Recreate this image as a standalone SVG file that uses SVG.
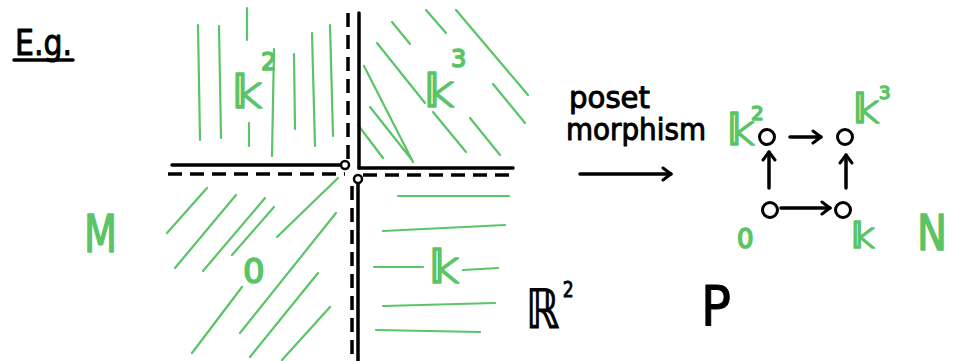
<svg xmlns="http://www.w3.org/2000/svg" width="954" height="361" viewBox="0 0 954 361">
<defs>
<style>
.bk{stroke:#000;stroke-width:3.5;fill:none;stroke-linecap:round;stroke-linejoin:round}
.ds{stroke:#000;stroke-width:3.5;fill:none;stroke-dasharray:14 8;stroke-linecap:butt}
.gr{stroke:#5ac467;stroke-width:2.2;fill:none;stroke-linecap:round}
.gt{fill:#5ac467;stroke:#5ac467;stroke-width:1.6;stroke-linejoin:round;font-family:"DejaVu Sans",sans-serif}
.bt{fill:#000;stroke:#000;stroke-width:1;stroke-linejoin:round;font-family:"DejaVu Sans",sans-serif}
.nd{stroke:#000;stroke-width:3;fill:#fff}
</style>
<marker id="ah" viewBox="-10 -8 12 16" markerWidth="12" markerHeight="16" refX="0" refY="0" orient="auto" markerUnits="userSpaceOnUse">
<path d="M-8,-6 L0,0 L-8,6" stroke="#000" stroke-width="3" fill="none" stroke-linecap="round" stroke-linejoin="round"/>
</marker>
</defs>
<rect width="954" height="361" fill="#fff"/>

<!-- E.g. -->
<text class="bt" x="15" y="55" font-size="36" textLength="57" lengthAdjust="spacingAndGlyphs">E.g.</text>
<line class="bk" x1="14" y1="60" x2="73" y2="60"/>

<!-- green hatching upper-left (vertical) -->
<g class="gr">
<line x1="198" y1="25" x2="200" y2="140"/>
<line x1="219" y1="26" x2="221" y2="138"/>
<line x1="247" y1="8" x2="247" y2="40"/>
<line x1="249" y1="123" x2="249" y2="146"/>
<line x1="274" y1="49" x2="272" y2="156"/>
<line x1="294" y1="54" x2="295" y2="129"/>
<line x1="312" y1="33" x2="315" y2="146"/>
<line x1="330" y1="25" x2="333" y2="136"/>
</g>
<!-- green hatching upper-right (diagonal) -->
<g class="gr">
<line x1="392" y1="22" x2="410" y2="44"/>
<line x1="426" y1="10" x2="446" y2="33"/>
<line x1="456" y1="10" x2="528" y2="95"/>
<line x1="377" y1="43" x2="425" y2="103"/>
<line x1="433" y1="112" x2="466" y2="152"/>
<line x1="364" y1="66" x2="413" y2="162"/>
<line x1="370" y1="107" x2="412" y2="160"/>
<line x1="358" y1="125" x2="383" y2="158"/>
<line x1="470" y1="118" x2="500" y2="155"/>
<line x1="493" y1="84" x2="525" y2="123"/>
</g>
<!-- green hatching lower-left (diagonal) -->
<g class="gr">
<line x1="167" y1="233" x2="207" y2="188"/>
<line x1="175" y1="268" x2="236" y2="195"/>
<line x1="203" y1="271" x2="265" y2="198"/>
<line x1="232" y1="255" x2="274" y2="207"/>
<line x1="277" y1="237" x2="338" y2="178"/>
<line x1="240" y1="333" x2="336" y2="213"/>
<line x1="192" y1="353" x2="242" y2="287"/>
<line x1="250" y1="357" x2="318" y2="273"/>
<line x1="282" y1="360" x2="330" y2="307"/>
</g>
<!-- green hatching lower-right (horizontal) -->
<g class="gr">
<line x1="398" y1="196" x2="509" y2="196"/>
<line x1="383" y1="231" x2="505" y2="225"/>
<line x1="374" y1="267" x2="423" y2="267"/>
<line x1="463" y1="270" x2="498" y2="268"/>
<line x1="383" y1="306" x2="495" y2="303"/>
<line x1="376" y1="330" x2="480" y2="332"/>
</g>

<!-- quadrant borders -->
<line class="bk" x1="359" y1="13" x2="359" y2="168"/>
<line class="bk" x1="359" y1="168" x2="513" y2="168"/>
<line class="ds" x1="348" y1="13" x2="348" y2="160"/>
<line class="bk" x1="172" y1="165" x2="341" y2="165"/>
<line class="ds" x1="168" y1="174" x2="345" y2="174"/>
<line class="ds" x1="363" y1="175" x2="513" y2="175"/>
<line class="ds" x1="352" y1="186" x2="352" y2="361"/>
<line class="bk" x1="358" y1="183" x2="358" y2="361"/>
<circle cx="345" cy="165" r="4" stroke="#000" stroke-width="2.5" fill="#fff"/>
<circle cx="358" cy="179" r="4" stroke="#000" stroke-width="2.5" fill="#fff"/>

<!-- region labels -->
<text class="gt" x="232" y="108" font-size="46">𝕜<tspan x="261" y="70" font-size="24">2</tspan></text>
<text class="gt" x="424" y="107" font-size="46">𝕜<tspan x="451" y="67" font-size="24">3</tspan></text>
<text class="gt" x="243" y="283" font-size="34">0</text>
<text class="gt" x="429" y="283" font-size="46">𝕜</text>
<text class="gt" x="84" y="252" font-size="52" textLength="33" lengthAdjust="spacingAndGlyphs">M</text>
<text class="gt" x="917" y="250" font-size="50" textLength="30" lengthAdjust="spacingAndGlyphs">N</text>
<text class="bt" font-size="54" transform="translate(526,328) scale(0.78,1)">ℝ<tspan x="47" y="-31" font-size="22">2</tspan></text>
<text class="bt" x="701" y="325" font-size="56" textLength="30" lengthAdjust="spacingAndGlyphs">P</text>

<!-- poset morphism -->
<text class="bt" x="569" y="108" font-size="30" textLength="81" lengthAdjust="spacingAndGlyphs">poset</text>
<text class="bt" x="566" y="140" font-size="30" textLength="140" lengthAdjust="spacingAndGlyphs">morphism</text>
<line class="bk" x1="580" y1="174" x2="671" y2="174" marker-end="url(#ah)"/>

<!-- poset graph -->
<g id="connectors">
<line class="bk" x1="790" y1="137" x2="821" y2="137" marker-end="url(#ah)"/>
<line class="bk" x1="781" y1="208" x2="830" y2="208" marker-end="url(#ah)"/>
<line class="bk" x1="769" y1="188" x2="769" y2="152" marker-end="url(#ah)"/>
<line class="bk" x1="846" y1="188" x2="846" y2="155" marker-end="url(#ah)"/>
</g>
<g id="node-k2">
<circle class="nd" cx="767" cy="137" r="7.5"/>
<text class="gt" x="727" y="145" font-size="42">𝕜<tspan x="751" y="120" font-size="20">2</tspan></text>
</g>
<g id="node-k3">
<circle class="nd" cx="845" cy="137" r="7.5"/>
<text class="gt" x="853" y="123" font-size="40">𝕜<tspan x="879" y="99" font-size="18">3</tspan></text>
</g>
<g id="node-0">
<circle class="nd" cx="770" cy="210" r="7.5"/>
<text class="gt" x="737" y="248" font-size="26">0</text>
</g>
<g id="node-k">
<circle class="nd" cx="843" cy="210" r="7.5"/>
<text class="gt" x="851" y="248" font-size="36">𝕜</text>
</g>
</svg>
